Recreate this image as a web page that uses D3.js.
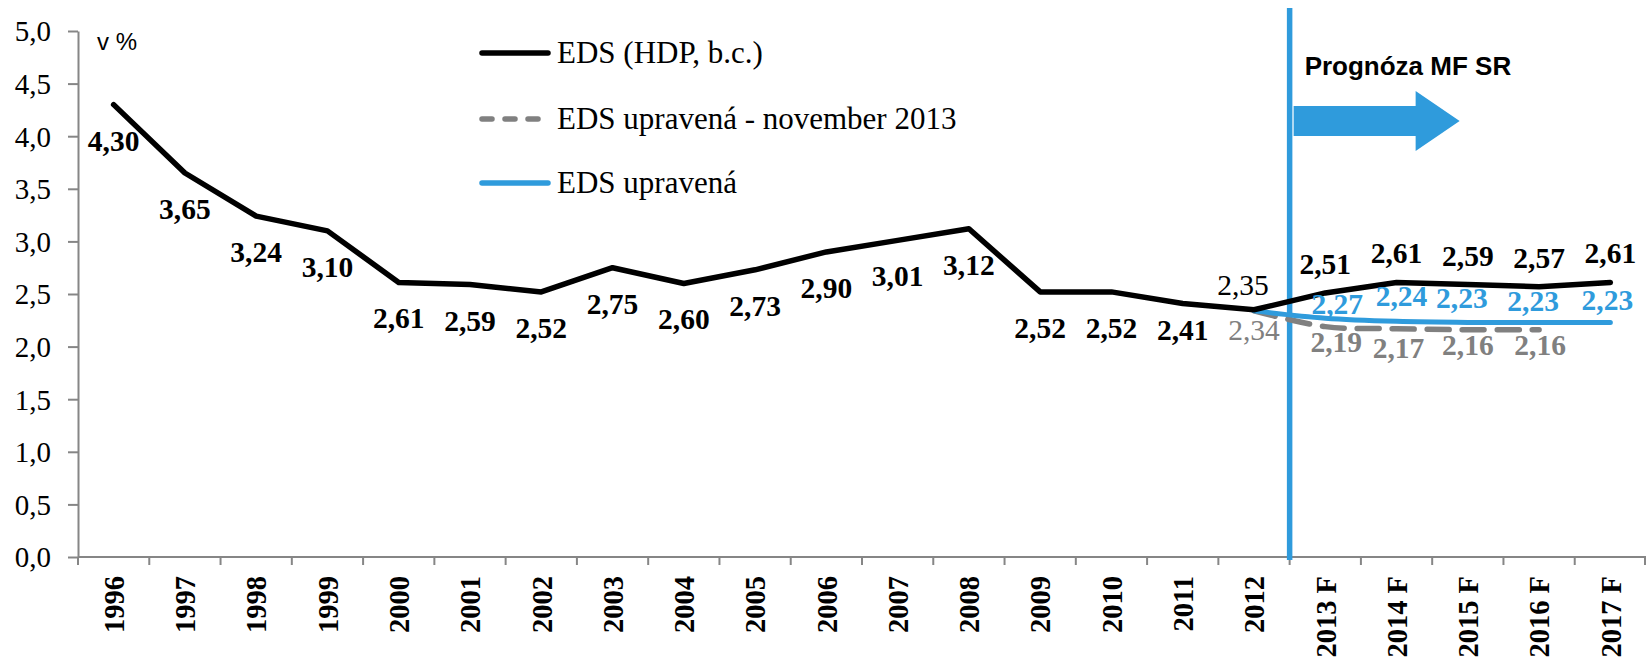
<!DOCTYPE html>
<html><head><meta charset="utf-8">
<script src="https://cdn.jsdelivr.net/npm/d3@7"></script>
<style>body{margin:0;background:#fff}svg{display:block}</style>
</head><body><svg id="c" width="1646" height="659"></svg>
<script>
// ---- data ----
const categories = ["1996","1997","1998","1999","2000","2001","2002","2003","2004","2005","2006","2007","2008","2009","2010","2011","2012","2013 F","2014 F","2015 F","2016 F","2017 F"];
const edsValues = [4.30,3.65,3.24,3.10,2.61,2.59,2.52,2.75,2.60,2.73,2.90,3.01,3.12,2.52,2.52,2.41,2.35,2.51,2.61,2.59,2.57,2.61];
const novCategories = ["2012","2013 F","2014 F","2015 F","2016 F"];
const novValues = [2.34,2.19,2.17,2.16,2.16];
const adjCategories = ["2012","2013 F","2014 F","2015 F","2016 F","2017 F"];
const adjValues = [2.34,2.27,2.24,2.23,2.23,2.23];
const yTicks = [0,0.5,1,1.5,2,2.5,3,3.5,4,4.5,5];
const seriesNames = ["EDS (HDP, b.c.)","EDS upravená - november 2013","EDS upravená"];
const unitLabel = "v %";
const forecastLabel = "Prognóza MF SR";
const forecastStart = "2013 F";

// ---- layout / style ----
const W = 1646, H = 659;
const mLeft = 78, mRight = 1646, mTop = 31, mBottom = 557;
const serif = "'Liberation Serif','Times New Roman',serif";
const sans = "'Liberation Sans',Arial,sans-serif";
const blue = "#2f9bdc", gray = "#808080", axisGray = "#868686";
const labelSize = 29.5;

const svg = d3.select("#c");
svg.append("rect").attr("width",W).attr("height",H).attr("fill","#fff");

const x = d3.scaleBand().domain(categories).range([mLeft, mRight]).paddingInner(0).paddingOuter(0);
const cx = c => x(c) + x.bandwidth()/2;
const y = d3.scaleLinear().domain([0,5]).range([mBottom, mTop]);
const fmt = v => v.toFixed(2).replace(".", ",");

// y axis
const yAxis = d3.axisLeft(y).tickValues(yTicks).tickSize(10).tickSizeOuter(0)
  .tickFormat(d => d.toFixed(1).replace(".", ","));
const ga = svg.append("g").attr("transform",`translate(${mLeft},0)`).call(yAxis);
ga.select(".domain").attr("stroke",axisGray).attr("stroke-width",2);
ga.selectAll(".tick line").attr("stroke",axisGray).attr("stroke-width",2);
ga.selectAll(".tick text").attr("font-family",serif).attr("font-size",29).attr("fill","#000")
  .attr("x",-27).attr("dy","0.34em");

// x axis
svg.append("line").attr("x1",mLeft).attr("x2",mRight).attr("y1",mBottom).attr("y2",mBottom)
  .attr("stroke",axisGray).attr("stroke-width",2);
const bounds = categories.map(c => x(c)).concat([mRight-1]);
svg.append("g").selectAll("line").data(bounds).join("line")
  .attr("x1",d=>d).attr("x2",d=>d).attr("y1",mBottom).attr("y2",mBottom+8)
  .attr("stroke",axisGray).attr("stroke-width",2);
svg.append("g").selectAll("text").data(categories).join("text")
  .attr("transform",d=>`translate(${cx(d)},576) rotate(-90)`)
  .attr("text-anchor","end").attr("dy","0.36em")
  .attr("font-family",serif).attr("font-weight","bold").attr("font-size",28.5)
  .text(d=>d);

// forecast vertical line
const fx = x(forecastStart);
svg.append("line").attr("x1",fx).attr("x2",fx).attr("y1",8).attr("y2",mBottom+3)
  .attr("stroke",blue).attr("stroke-width",5.5);

// arrow + text
const ax0 = fx + 4, ay = 121;
svg.append("path")
  .attr("d",`M${ax0},${ay-15}H${ax0+122}V${ay-30}L${ax0+166},${ay}L${ax0+122},${ay+30}V${ay+15}H${ax0}Z`)
  .attr("fill",blue);
svg.append("text").attr("x",fx+15).attr("y",75).attr("font-family",sans).attr("font-weight","bold")
  .attr("font-size",26).attr("fill","#000").text(forecastLabel);

// unit label
svg.append("text").attr("x",97).attr("y",50).attr("font-family",sans).attr("font-size",24)
  .attr("fill","#000").text(unitLabel);

// lines
const edsData = categories.map((c,i)=>({c, v:edsValues[i]}));
const novData = novCategories.map((c,i)=>({c, v:novValues[i]}));
const adjData = adjCategories.map((c,i)=>({c, v:adjValues[i]}));
const lineLin = d3.line().x(d=>cx(d.c)).y(d=>y(d.v));
const lineSmooth = d3.line().x(d=>cx(d.c)).y(d=>y(d.v)).curve(d3.curveCatmullRom.alpha(0));

svg.append("path").datum(novData).attr("d",lineSmooth).attr("fill","none")
  .attr("stroke",gray).attr("stroke-width",5.5).attr("stroke-dasharray","22,13").attr("stroke-linecap","round");
svg.append("path").datum(adjData).attr("d",lineSmooth).attr("fill","none")
  .attr("stroke",blue).attr("stroke-width",5).attr("stroke-linecap","round");
svg.append("path").datum(edsData).attr("d",lineLin).attr("fill","none")
  .attr("stroke","#000").attr("stroke-width",5.5).attr("stroke-linecap","round").attr("stroke-linejoin","round");

// data labels (placement offsets: baseline relative to point)
const edsLabelDy = categories.map((c,i)=> i<15 ? 46 : i===15 ? 37 : i===16 ? -15 : -19);
const edsLabelDx = categories.map((c,i)=> i===16 ? -11 : 0);
const edsLabelBold = categories.map((c,i)=> i!==16);
svg.append("g").selectAll("text").data(edsData).join("text")
  .attr("x",(d,i)=>cx(d.c)+edsLabelDx[i]).attr("y",(d,i)=>y(d.v)+edsLabelDy[i])
  .attr("text-anchor","middle").attr("font-family",serif).attr("font-size",labelSize)
  .attr("font-weight",(d,i)=>edsLabelBold[i]?"bold":"normal").attr("fill","#000")
  .text(d=>fmt(d.v));

const novLabelDy = [29,25,29,25,25];
const novLabelDx = [0,11,2,0,1];
svg.append("g").selectAll("text").data(novData).join("text")
  .attr("x",(d,i)=>cx(d.c)+novLabelDx[i]).attr("y",(d,i)=>y(d.v)+novLabelDy[i])
  .attr("text-anchor","middle").attr("font-family",serif).attr("font-size",labelSize)
  .attr("font-weight",(d,i)=>i===0?"normal":"bold").attr("fill",gray)
  .text(d=>fmt(d.v));

const adjLabeled = adjData.slice(1);
const adjLabelDy = [-4,-15,-14,-11,-12];
const adjLabelDx = [12,5,-6,-6,-3];
svg.append("g").selectAll("text").data(adjLabeled).join("text")
  .attr("x",(d,i)=>cx(d.c)+adjLabelDx[i]).attr("y",(d,i)=>y(d.v)+adjLabelDy[i])
  .attr("text-anchor","middle").attr("font-family",serif).attr("font-size",labelSize)
  .attr("font-weight","bold").attr("fill",blue)
  .text(d=>fmt(d.v));

// legend
const legY = [53,119,183];
const legStroke = ["#000", gray, blue];
const leg = svg.append("g");
seriesNames.forEach((n,i)=>{
  leg.append("line").attr("x1",482).attr("x2",548).attr("y1",legY[i]).attr("y2",legY[i])
    .attr("stroke",legStroke[i]).attr("stroke-width",5.5).attr("stroke-linecap","round")
    .attr("stroke-dasharray", i===1 ? "10,13" : null);
  leg.append("text").attr("x",557).attr("y",legY[i]+10).attr("font-family",serif)
    .attr("font-size",31).attr("fill","#000").text(n);
});
</script></body></html>
